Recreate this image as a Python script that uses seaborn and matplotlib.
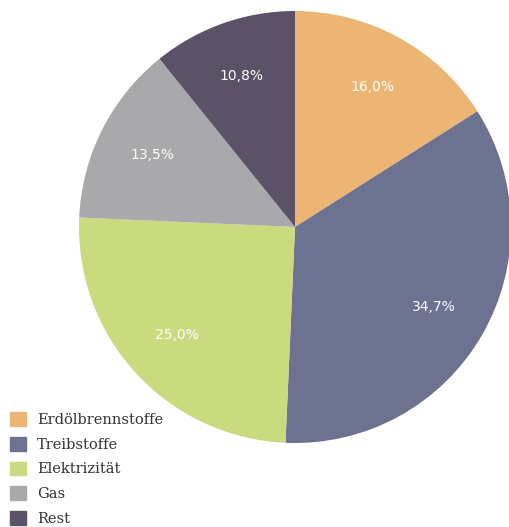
import matplotlib
matplotlib.use("Agg")
import matplotlib.pyplot as plt
import matplotlib.patches as mpatches
import seaborn as sns

sns.set_theme(style="white")

categories = ["Erdölbrennstoffe", "Treibstoffe", "Elektrizität", "Gas", "Rest"]
shares = [16.0, 34.7, 25.0, 13.5, 10.8]
colors = ["#EDB574", "#6E7291", "#C9DA7F", "#A9A9AC", "#5B5267"]

W, H = 510, 527
fig = plt.figure(figsize=(W / 100, H / 100), dpi=100)

# pie centre at (295, 227) px, radius 216 px
cx, cy, r = 295, 227, 216
ax = fig.add_axes([(cx - r) / W, 1 - (cy + r) / H, 2 * r / W, 2 * r / H])

wedges, texts, autotexts = ax.pie(
    shares,
    colors=colors,
    startangle=90,
    counterclock=False,
    radius=1,
    autopct=lambda p: f"{p:.1f}%".replace(".", ","),
    pctdistance=0.74,
    wedgeprops=dict(linewidth=0),
    textprops=dict(color="white", fontsize=10, family="DejaVu Sans"),
)
ax.set_xlim(-1, 1)
ax.set_ylim(-1, 1)
ax.set_aspect("equal")
ax.axis("off")

handles = [mpatches.Patch(color=c, label=l) for c, l in zip(colors, categories)]
fig.legend(
    handles=handles,
    loc="lower left",
    bbox_to_anchor=(0.0, -0.017),
    frameon=False,
    handlelength=1.05,
    handleheight=1.05,
    handletextpad=0.8,
    labelspacing=0.68,
    borderaxespad=0.3,
    prop=dict(family="DejaVu Serif", size=10.5),
    labelcolor="#333333",
)

fig.savefig("out.png", dpi=100)
plt.close(fig)
